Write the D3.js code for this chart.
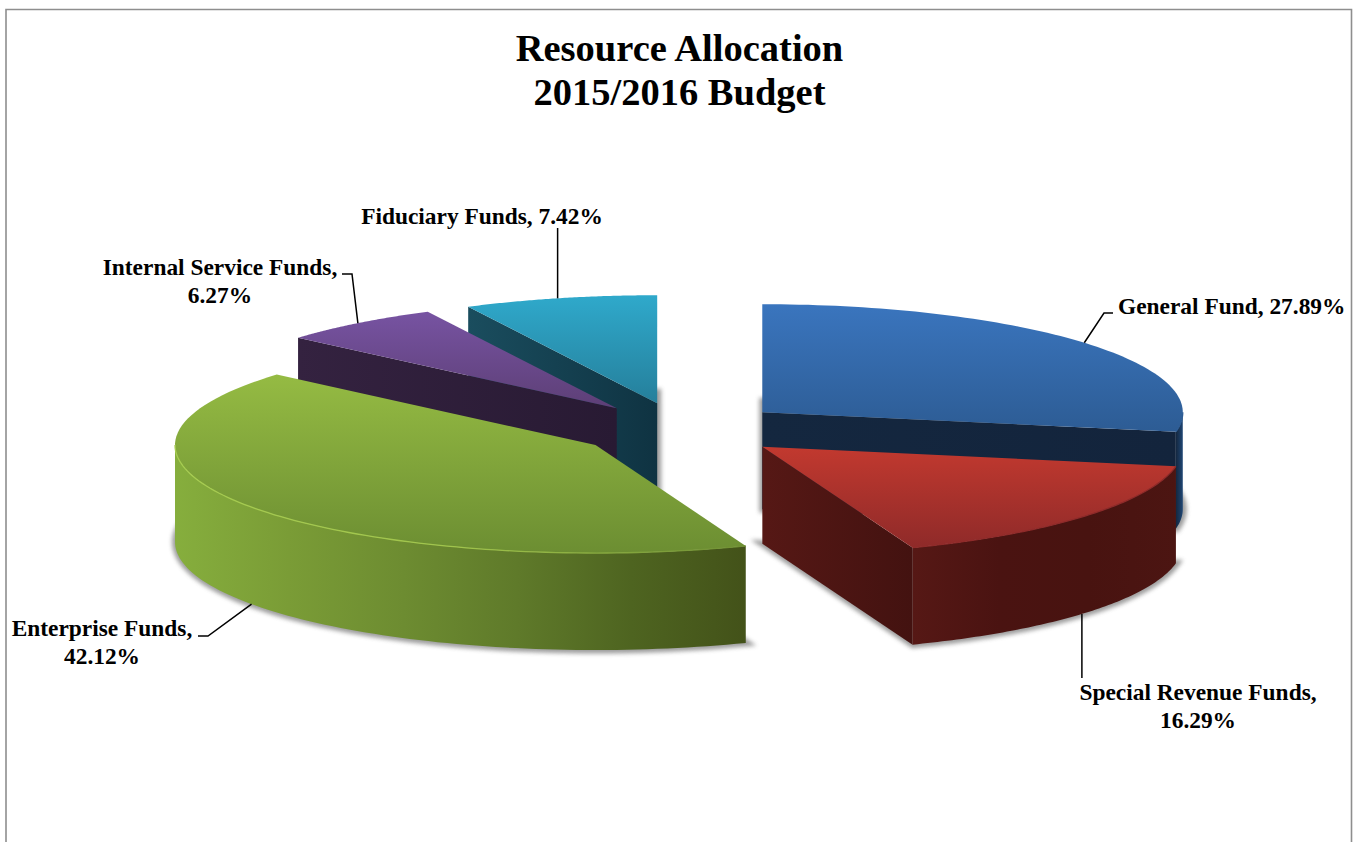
<!DOCTYPE html>
<html>
<head>
<meta charset="utf-8">
<script src="https://cdnjs.cloudflare.com/ajax/libs/d3/7.8.5/d3.min.js"></script>
<style>
html,body{margin:0;padding:0;background:#fff;overflow:hidden}
svg{display:block}
text{font-family:"Liberation Serif",serif;font-weight:bold;fill:#000}
</style>
</head>
<body>
<svg id="chart" width="1355" height="842"></svg>
<script>
// Budget shares, clockwise from twelve o'clock
const fundNames = ["General Fund", "Special Revenue Funds", "Enterprise Funds", "Internal Service Funds", "Fiduciary Funds"];
const fundShares = [27.89, 16.29, 42.12, 6.27, 7.42];
const labelWraps = [false, true, true, true, false];
const titleLines = ["Resource Allocation", "2015/2016 Budget"];

// Colour ramps: top face (far to near), side walls and outer rim
const topRamp = [["#3a75be", "#2d5c94"], ["#c2392f", "#8f2a29"], ["#95bb43", "#6c8e32"], ["#7753a2", "#5d3f76"], ["#2fa9cb", "#257f9b"]];
const wallRamp = [["#14273f", "#13243c"], ["#561815", "#431210"], ["#4a5c1e", "#4a5c1e"], ["#342240", "#281a33"], ["#1a4d5e", "#0f3342"]];
const rimRamp = [["#14273f", "#1f4674"], ["#561815", "#4a1311", "#481310", "#4c1512"], ["#86ae3d", "#7a9c36", "#6d8c31", "#5f7a2a", "#4e6420", "#435219"], ["#342240", "#342240"], ["#1a4d5e", "#1a4d5e"]];
const bevelRamp = [["#2d5c94", "#2d5c94"], ["#8f2a29", "#8f2a29"], ["#a6cc50", "#a0c44c", "#6f8f33"], ["#5d3f76", "#5d3f76"], ["#257f9b", "#257f9b"]];

const width = 1355, height = 842;
const pieCx = 681.5, pieCy = 429.5, radiusX = 420.5, radiusY = 108, thickness = 97, explode = 0.25;

// Unit-disc coordinates to screen, flattened by the viewing tilt
const sx = d3.scaleLinear().domain([-1, 1]).range([pieCx - radiusX, pieCx + radiusX]);
const sy = d3.scaleLinear().domain([-1, 1]).range([pieCy - radiusY, pieCy + radiusY]);

const slices = d3.pie().sort(null).value(d => d)
  .startAngle(0).endAngle(2 * Math.PI)(fundShares)
  .map((s, i) => {
    const mid = (s.startAngle + s.endAngle) / 2;
    return {i, a0: s.startAngle, a1: s.endAngle, mid,
      ox: explode * Math.sin(mid), oy: -explode * Math.cos(mid)};
  });

const rimPoint = (s, a, drop = 0) => [sx(s.ox + Math.sin(a)), sy(s.oy - Math.cos(a)) + drop];
const apexPoint = (s, drop = 0) => [sx(s.ox), sy(s.oy) + drop];
const arcPoints = (s, a0, a1, drop = 0) =>
  d3.range(0, 81).map(k => rimPoint(s, a0 + (a1 - a0) * k / 80, drop));

const line = d3.line();
const svg = d3.select("#chart");
const defs = svg.append("defs");

defs.append("filter").attr("id", "softShadow")
  .attr("x", "-10%").attr("y", "-10%").attr("width", "120%").attr("height", "120%")
  .append("feGaussianBlur").attr("stdDeviation", 2.2);

function gradient(id, colors, x1, y1, x2, y2) {
  const g = defs.append("linearGradient").attr("id", id)
    .attr("gradientUnits", "userSpaceOnUse")
    .attr("x1", x1).attr("y1", y1).attr("x2", x2).attr("y2", y2);
  colors.forEach((c, k) => g.append("stop")
    .attr("offset", k / (colors.length - 1)).attr("stop-color", c));
  return `url(#${id})`;
}

// Outer frame, open at the foot of the page
svg.append("path")
  .attr("d", line([[6, height + 2], [6, 9.5], [1351.5, 9.5], [1351.5, height + 2]]))
  .attr("fill", "none").attr("stroke", "#8e8e8e").attr("stroke-width", 1.6);

// Far slices first so nearer ones overlap them
const drawOrder = [4, 3, 0, 2, 1];
const plot = svg.append("g");

drawOrder.forEach(idx => {
  const s = slices[idx];
  const g = plot.append("g").attr("class", "slice");
  const top = [apexPoint(s), ...arcPoints(s, s.a0, s.a1)];

  // Ground shadow: the bottom face, spread and blurred
  g.append("path")
    .attr("d", line([apexPoint(s, thickness), ...arcPoints(s, s.a0, s.a1, thickness)]) + "Z")
    .attr("transform", "translate(0.5,0)")
    .attr("fill", "#8c8c8c").attr("stroke", "#8c8c8c").attr("stroke-width", 7)
    .attr("stroke-linejoin", "miter").attr("filter", "url(#softShadow)").attr("opacity", 0.85);

  // Cut faces that turn toward the viewer
  const cuts = [];
  if (Math.sin(s.a0) < -1e-6) cuts.push(s.a0);
  if (Math.sin(s.a1) > 1e-6) cuts.push(s.a1);
  cuts.forEach((a, k) => {
    const edge = rimPoint(s, a), apex = apexPoint(s);
    const [left, right] = edge[0] < apex[0] ? [edge, apex] : [apex, edge];
    const fill = gradient(`wall${idx}-${k}`, wallRamp[idx], left[0], 0, right[0], 0);
    g.append("path")
      .attr("d", line([apex, edge, rimPoint(s, a, thickness), apexPoint(s, thickness)]) + "Z")
      .attr("fill", fill);
  });

  // Outer rim: only the near half of the circle is visible
  const r0 = Math.max(s.a0, Math.PI / 2), r1 = Math.min(s.a1, 3 * Math.PI / 2);
  const upper = r1 > r0 ? arcPoints(s, r0, r1) : null;
  if (upper) {
    const lower = arcPoints(s, r0, r1, thickness).reverse();
    const xs = d3.extent(upper, p => p[0]);
    g.append("path").attr("d", line([...upper, ...lower]) + "Z")
      .attr("fill", gradient(`rim${idx}`, rimRamp[idx], xs[0], 0, xs[1], 0));
  }

  // Top face, shaded from the far edge to the near edge
  const ys = d3.extent(top, p => p[1]);
  g.append("path").attr("d", line(top) + "Z")
    .attr("fill", gradient(`top${idx}`, topRamp[idx], 0, ys[0], 0, ys[1]));

  // Bevel highlight on the near edge of the top face
  if (upper) {
    const xs = d3.extent(upper, p => p[0]);
    g.append("path").attr("d", line(upper))
      .attr("fill", "none").attr("stroke-width", 1.3)
      .attr("stroke", gradient(`bevel${idx}`, bevelRamp[idx], xs[0], 0, xs[1], 0));
  }
});

// Title
svg.append("g").selectAll("text").data(titleLines).join("text")
  .attr("x", 679.5).attr("y", (d, i) => 61 + i * 44)
  .attr("text-anchor", "middle").attr("font-size", 38.5).text(d => d);

// Leader elbows and where each label sits; each leader starts near its slice's mid-rim
const labelAnchor = [[1118, 314], [1198, 700], [102, 636], [220, 275], [482, 224]];
const labelAlign = ["start", "middle", "middle", "middle", "middle"];
const leaderNudge = [-0.004, 0.014, 0, 0, -0.006];
const leaderBends = [
  [[1104, 313], [1113, 313]],
  [[null, 678]],
  [[208, 636], [198, 636]],
  [[352, 274], [342, 274]],
  [[null, 228]]
];
const labels = svg.append("g");
slices.forEach(s => {
  const onFront = Math.cos(s.mid) < 0;
  const start = rimPoint(s, s.mid + leaderNudge[s.i], onFront ? thickness : 0);
  const pts = [start, ...leaderBends[s.i].map(p => [p[0] === null ? start[0] : p[0], p[1]])];
  labels.append("path").attr("d", line(pts))
    .attr("fill", "none").attr("stroke", "#000").attr("stroke-width", 1.5);
  const pct = `${fundShares[s.i].toFixed(2)}%`;
  const rows = labelWraps[s.i] ? [`${fundNames[s.i]},`, pct] : [`${fundNames[s.i]}, ${pct}`];
  labels.append("g").selectAll("text").data(rows).join("text")
    .attr("x", labelAnchor[s.i][0])
    .attr("y", (d, k) => labelAnchor[s.i][1] + k * 27.5)
    .attr("text-anchor", labelAlign[s.i])
    .attr("font-size", 23.4).text(d => d);
});
</script>
</body>
</html>
